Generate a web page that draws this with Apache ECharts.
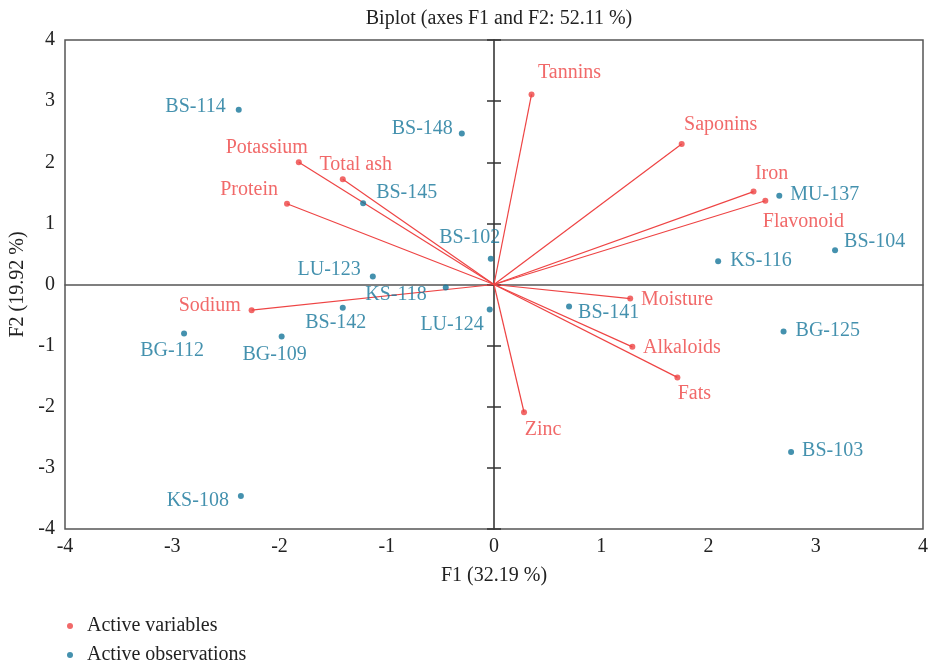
<!DOCTYPE html>
<html>
<head>
<meta charset="utf-8">
<script src="https://cdn.jsdelivr.net/npm/echarts@6/dist/echarts.min.js"></script>
<style>html,body{margin:0;padding:0;background:#fff}#c{width:928px;height:665px}</style>
</head>
<body>
<div id="c"></div>
<script>
// ---- data ----
var variableNames = ['Tannins','Saponins','Iron','Flavonoid','Moisture','Alkaloids','Fats','Zinc','Potassium','Total ash','Protein','Sodium'];
var variableF1 = [0.35, 1.75, 2.42, 2.53, 1.27, 1.29, 1.71, 0.28, -1.82, -1.41, -1.93, -2.26];
var variableF2 = [3.11, 2.30, 1.52, 1.37, -0.23, -1.02, -1.52, -2.09, 2.00, 1.72, 1.32, -0.42];

var observationNames = ['BS-114','BS-148','BS-145','BS-102','LU-123','KS-118','LU-124','BS-142','BG-112','BG-109','KS-108','MU-137','BS-104','KS-116','BS-141','BG-125','BS-103'];
var observationF1 = [-2.38, -0.30, -1.22, -0.03, -1.13, -0.45, -0.04, -1.41, -2.89, -1.98, -2.36, 2.66, 3.18, 2.09, 0.70, 2.70, 2.77];
var observationF2 = [2.86, 2.47, 1.33, 0.42, 0.13, -0.05, -0.41, -0.38, -0.80, -0.85, -3.46, 1.45, 0.56, 0.38, -0.36, -0.77, -2.74];

var axisTicks = [-4, -3, -2, -1, 0, 1, 2, 3, 4];

// ---- label placement (style only): [position, distance, dx, dy] ----
var labelPlace = {
  'Tannins':   ['top', 8.5, 38, 0],
  'Saponins':  ['top', 6, 39, 0],
  'Iron':      ['top', 4.5, 18, 0],
  'Flavonoid': ['bottom', 8, 38, 0],
  'Moisture':  ['right', 7.7, 0, 1],
  'Alkaloids': ['right', 7.7, 0, 1],
  'Fats':      ['bottom', 3.5, 17, 0],
  'Zinc':      ['bottom', 4, 19, 0],
  'Potassium': ['top', 1.5, -32, 0],
  'Total ash': ['top', 2, 13, 0],
  'Protein':   ['left', 6, 0, -14],
  'Sodium':    ['left', 7.7, 0, -4],
  'BS-114': ['left', 10, 0, -3],
  'BS-148': ['left', 6, 0, -5],
  'BS-145': ['right', 10, 0, -10],
  'BS-102': ['top', 8.5, -21, 0],
  'LU-123': ['left', 9, 0, -7],
  'KS-118': ['left', 16, 0, 7],
  'LU-124': ['left', 3, 0, 15],
  'BS-142': ['bottom', 2.5, -7, 0],
  'BG-112': ['bottom', 4.5, -12, 0],
  'BG-109': ['bottom', 5.5, -7, 0],
  'KS-108': ['left', 9, 0, 5],
  'MU-137': ['right', 8, 0, -1],
  'BS-104': ['right', 6, 0, -9],
  'KS-116': ['right', 9, 0, -1],
  'BS-141': ['right', 6, 0, 6],
  'BG-125': ['right', 9, 0, -1],
  'BS-103': ['right', 8, 0, -1]
};

var RED = '#ee4444';
var BLUE = '#15769a';
var FONT = '"Liberation Serif", "DejaVu Serif", serif';
var FS = 20;

function mk(names, xs, ys) {
  return names.map(function (n, i) {
    var p = labelPlace[n] || ['right', 5, 0, 0];
    return {
      name: n,
      value: [xs[i], ys[i]],
      label: { position: p[0], distance: p[1], offset: [p[2], p[3]] }
    };
  });
}

var varData = mk(variableNames, variableF1, variableF2);
var obsData = mk(observationNames, observationF1, observationF2);

var chart = echarts.init(document.getElementById('c'), null, { renderer: 'canvas' });

var baseAxis = {
  type: 'value', min: axisTicks[0], max: axisTicks[axisTicks.length - 1], interval: 1,
  splitLine: { show: false }
};

var legendCommon = {
  orient: 'vertical', left: 62,
  itemWidth: 6, itemHeight: 6, icon: 'circle',
  textStyle: { fontFamily: FONT, fontSize: FS, color: '#222', padding: [0, 0, 0, 9] }
};

chart.setOption({
  backgroundColor: '#fff',
  animation: false,
  textStyle: { fontFamily: FONT },
  title: {
    text: 'Biplot (axes F1 and F2: 52.11 %)',
    left: 494, top: 4, textAlign: 'center',
    textStyle: { fontFamily: FONT, fontSize: 20, fontWeight: 'normal', color: '#222' }
  },
  grid: {
    left: 65, right: 5, top: 40, bottom: 136,
    outerBoundsMode: 'none', containLabel: false,
    show: true, borderColor: '#555', borderWidth: 1.5, backgroundColor: 'transparent'
  },
  legend: [
    Object.assign({}, legendCommon, { top: 611, data: ['Active variables'] }),
    Object.assign({}, legendCommon, { top: 640, data: ['Active observations'] })
  ],
  xAxis: [
    Object.assign({}, baseAxis, {
      position: 'bottom',
      name: 'F1 (32.19 %)', nameLocation: 'middle', nameGap: 37,
      nameTextStyle: { fontFamily: FONT, fontSize: FS, color: '#222' },
      axisLine: { show: false, onZero: false },
      axisTick: { show: false },
      axisLabel: { fontFamily: FONT, fontSize: FS, color: '#222', margin: 8 }
    }),
    Object.assign({}, baseAxis, {
      axisLine: { show: true, onZero: true, onZeroAxisIndex: 0, lineStyle: { color: '#555', width: 1.5 } },
      axisTick: { show: false },
      axisLabel: { show: false }
    })
  ],
  yAxis: [
    Object.assign({}, baseAxis, {
      position: 'left',
      name: 'F2 (19.92 %)', nameLocation: 'middle', nameGap: 37, nameRotate: 90,
      nameTextStyle: { fontFamily: FONT, fontSize: FS, color: '#222' },
      axisLine: { show: false, onZero: false },
      axisTick: { show: false },
      axisLabel: { fontFamily: FONT, fontSize: FS, color: '#222', margin: 10 }
    }),
    Object.assign({}, baseAxis, {
      position: 'left',
      axisLine: { show: true, onZero: true, onZeroAxisIndex: 0, lineStyle: { color: '#555', width: 1.5 } },
      axisTick: { show: true, length: 7, lineStyle: { color: '#333', width: 1.5 } },
      axisLabel: { show: false }
    }),
    Object.assign({}, baseAxis, {
      position: 'right',
      axisLine: { show: true, onZero: true, onZeroAxisIndex: 0, lineStyle: { color: '#555', width: 1.5 } },
      axisTick: { show: true, length: 7, lineStyle: { color: '#333', width: 1.5 } },
      axisLabel: { show: false }
    })
  ],
  series: [
    {
      type: 'custom',
      name: 'vectors',
      xAxisIndex: 0, yAxisIndex: 0,
      silent: true,
      z: 1,
      data: variableF1.map(function (x, i) { return [x, variableF2[i]]; }),
      renderItem: function (params, api) {
        var o = api.coord([0, 0]);
        var p = api.coord([api.value(0), api.value(1)]);
        return {
          type: 'line',
          shape: { x1: o[0], y1: o[1], x2: p[0], y2: p[1] },
          style: { stroke: RED, lineWidth: 1.2 }
        };
      }
    },
    {
      type: 'scatter',
      name: 'Active variables',
      xAxisIndex: 0, yAxisIndex: 0,
      z: 3,
      symbol: 'circle', symbolSize: 6,
      itemStyle: { color: RED },
      label: { show: true, formatter: '{b}', color: RED, fontFamily: FONT, fontSize: FS },
      data: varData
    },
    {
      type: 'scatter',
      name: 'Active observations',
      xAxisIndex: 0, yAxisIndex: 0,
      z: 3,
      symbol: 'circle', symbolSize: 6,
      itemStyle: { color: BLUE },
      label: { show: true, formatter: '{b}', color: BLUE, fontFamily: FONT, fontSize: FS },
      data: obsData
    }
  ]
});
</script>
</body>
</html>
